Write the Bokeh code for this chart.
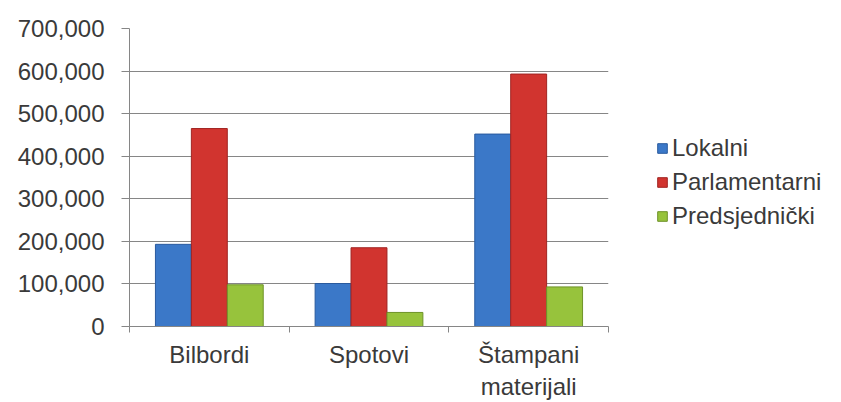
from bokeh.plotting import figure
from bokeh.models import (Range1d, LinearAxis, FixedTicker,
                          NumeralTickFormatter, ColumnDataSource, Legend, LegendItem)
from bokeh.transform import dodge
from bokeh.embed import file_html
from bokeh.resources import INLINE

categories = ["Bilbordi", "Spotovi", "Štampani\nmaterijali"]
series = ["Lokalni", "Parlamentarni", "Predsjednički"]
lokalni = [193000, 101000, 452000]
parlamentarni = [465000, 185000, 593000]
predsjednicki = [98000, 33000, 93000]
y_ticks = [0, 100000, 200000, 300000, 400000, 500000, 600000, 700000]

colors = ["#3b78c8", "#d1342f", "#97c33c"]
edges = ["#2a5a9e", "#a02422", "#6e9228"]

centers = [i + 0.5 for i in range(len(categories))]
bounds = list(range(len(categories) + 1))

src = ColumnDataSource(dict(x=centers, Lokalni=lokalni,
                            Parlamentarni=parlamentarni, Predsjednicki=predsjednicki))
cols = ["Lokalni", "Parlamentarni", "Predsjednicki"]

FONT = "Liberation Sans"
GRAY = "#868686"
TXT = "#3a3a3a"

p = figure(x_range=Range1d(0, len(categories)), y_range=Range1d(0, 700000),
           frame_width=479, frame_height=298, min_border_left=129, min_border_top=28,
           min_border_right=225, min_border_bottom=60,
           output_backend="svg", toolbar_location=None,
           x_axis_location=None, y_axis_location="left")
p.outline_line_color = None
p.background_fill_color = "white"
p.border_fill_color = "white"

cat_axis = LinearAxis(ticker=FixedTicker(ticks=centers, minor_ticks=bounds),
                      major_label_overrides={c: n for c, n in zip(centers, categories)},
                      axis_line_color=GRAY, major_tick_line_color=None,
                      minor_tick_line_color=GRAY, minor_tick_in=0, minor_tick_out=6,
                      major_tick_in=0, major_tick_out=6,
                      major_label_text_font=FONT, major_label_text_font_size="24px",
                      major_label_text_color=TXT, major_label_standoff=8)
p.add_layout(cat_axis, "below")

ya = p.yaxis[0]
ya.ticker = FixedTicker(ticks=y_ticks, minor_ticks=[])
ya.formatter = NumeralTickFormatter(format="0,0")
ya.axis_line_color = GRAY
ya.major_tick_line_color = GRAY
ya.major_tick_out = 8
ya.major_tick_in = 0
ya.minor_tick_line_color = None
ya.major_label_standoff = 17
ya.major_label_text_font = FONT
ya.major_label_text_font_size = "24px"
ya.major_label_text_color = TXT

p.ygrid.ticker = FixedTicker(ticks=y_ticks)
p.ygrid.grid_line_color = GRAY
p.xgrid.grid_line_color = None

offs = [-0.225, 0.0, 0.225]
renderers = []
for col, off, c, e in zip(cols, offs, colors, edges):
    r = p.vbar(x=dodge("x", off), top=col, width=0.225, source=src,
               fill_color=c, line_color=e, line_width=1)
    renderers.append(r)

legend = Legend(items=[LegendItem(label=s, renderers=[r]) for s, r in zip(series, renderers)],
                location=(48, 96), orientation="vertical",
                label_text_font=FONT, label_text_font_size="24px", label_text_color=TXT,
                glyph_width=12, glyph_height=12, label_height=24, label_standoff=4,
                spacing=6, padding=0, margin=0, border_line_color=None,
                background_fill_alpha=0)
p.add_layout(legend, "right")

open("out.html", "w").write(file_html(p, INLINE))
